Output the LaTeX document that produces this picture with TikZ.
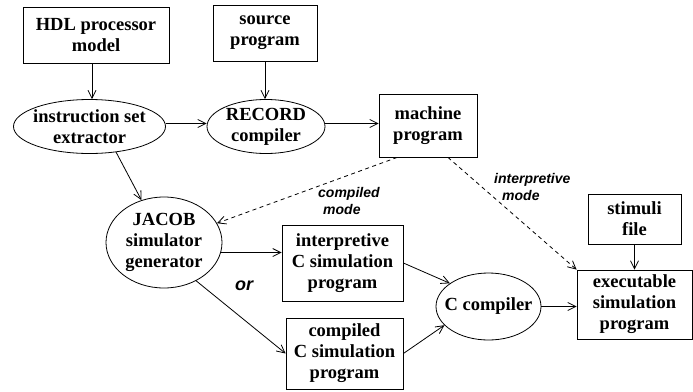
\documentclass[tikz,border=0pt]{standalone}
\usepackage{fontspec}
\setmainfont{Liberation Serif}
\setsansfont{Liberation Sans}
\usetikzlibrary{shapes.geometric,arrows.meta}

\tikzset{
  box/.style={draw, rectangle, line width=0.8pt, inner sep=0pt, align=center,
    font=\bfseries\fontsize{18.5}{21}\selectfont},
  oval/.style={draw, ellipse, line width=0.8pt, inner sep=0pt},
  ovaltext/.style={align=center, font=\bfseries\fontsize{18.5}{21}\selectfont},
  arr/.style={line width=0.8pt, -{Straight Barb[length=8pt,width=8pt]}},
  darr/.style={arr, dash pattern=on 4pt off 3.5pt},
  modelab/.style={align=left, inner sep=0pt,
    font=\sffamily\bfseries\itshape\fontsize{14}{17}\selectfont},
}

\begin{document}
\begin{tikzpicture}[x=1pt, y=-1pt]
  \useasboundingbox (0,0) rectangle (693,391);

  % inputs
  \node[box, minimum width=146pt, minimum height=56pt] (hdl) at (96,35)
    {HDL processor\\model};
  \node[box, minimum width=104pt, minimum height=56pt] (src) at (265,33)
    {source\\program};

  % tools (ellipses, text set as centred labels)
  \node[oval, minimum width=152pt, minimum height=54pt,
        label={[ovaltext]center:instruction set\\extractor}] (ise) at (89.5,126.5) {};
  \node[oval, minimum width=118pt, minimum height=54pt,
        label={[ovaltext]center:RECORD\\compiler}] (rec) at (266,126.5) {};
  \node[oval, minimum width=116pt, minimum height=91pt,
        label={[ovaltext]center:JACOB\\simulator\\generator}] (jacob) at (164,242.5) {};
  \node[oval, minimum width=105pt, minimum height=67pt,
        label={[ovaltext]center:C compiler}] (cc) at (488.5,306.5) {};

  % intermediate and final files
  \node[box, minimum width=98pt, minimum height=63pt] (mach) at (428,125.5)
    {machine\\program};
  \node[box, minimum width=121pt, minimum height=76pt] (interp) at (342.5,263)
    {interpretive\\C simulation\\program};
  \node[box, minimum width=117pt, minimum height=71pt] (comp) at (344.5,353.5)
    {compiled\\C simulation\\program};
  \node[box, minimum width=93pt, minimum height=50pt] (stim) at (634.5,219)
    {stimuli\\file};
  \node[box, minimum width=115pt, minimum height=69pt] (exe) at (634.5,304.5)
    {executable\\simulation\\program};

  % mode labels
  \node[modelab, anchor=west] (cmode) at (318,201) {compiled\\\hspace*{5pt}mode};
  \node[modelab, anchor=west] (imode) at (494,187) {interpretive\\\hspace*{8pt}mode};
  \node[inner sep=0pt, font=\sffamily\bfseries\itshape\fontsize{18}{20}\selectfont]
    (orlab) at (244,286) {or};

  % flow
  \draw[arr] ([xshift=-4pt]hdl.south) -- ([xshift=-4pt]hdl.south |- ise.north);
  \draw[arr] (src.south) -- (src.south |- rec.north);
  \draw[arr] ([yshift=3pt]ise.east) -- ([yshift=3pt]ise.east -| rec.west);
  \draw[arr] ([yshift=3pt]rec.east) -- ([yshift=3pt]rec.east -| mach.west);
  \draw[arr] (ise.-44) -- (jacob.118);
  \draw[darr] (mach.226) -- (jacob.20);
  \draw[darr] (mach.-58) -- (exe.north west);
  \draw[arr] (stim.south) -- (exe.north -| stim.south);
  \draw[arr] (jacob.-10) -- (jacob.-10 -| interp.west);
  \draw[arr] (jacob.-50) -- (comp.west);
  \draw[arr] (interp.east) -- (cc.149);
  \draw[arr] (comp.east) -- (cc.203);
  \draw[arr] (cc.east) -- (cc.east -| exe.west);
\end{tikzpicture}
\end{document}
